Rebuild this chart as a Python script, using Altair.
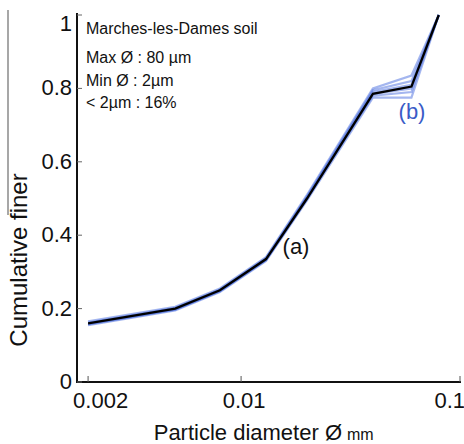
import altair as alt
import pandas as pd

# Grain-size distribution, Marches-les-Dames soil
diameter_mm = [0.002, 0.005, 0.008, 0.013, 0.02, 0.04, 0.06, 0.08]
finer_a = [0.16, 0.2, 0.25, 0.335, 0.5, 0.785, 0.805, 1.0]

# repeated measurements (b)
finer_b = {
    "b1": [0.155, 0.195, 0.245, 0.33, 0.495, 0.775, 0.775, 1.0],
    "b2": [0.158, 0.198, 0.248, 0.333, 0.5, 0.78, 0.79, 1.0],
    "b3": [0.16, 0.2, 0.25, 0.335, 0.505, 0.79, 0.81, 1.0],
    "b4": [0.162, 0.202, 0.252, 0.338, 0.505, 0.795, 0.82, 1.0],
    "b5": [0.165, 0.205, 0.255, 0.34, 0.51, 0.8, 0.835, 1.0],
    "b6": [0.157, 0.197, 0.247, 0.332, 0.498, 0.785, 0.8, 1.0],
}

y_ticks = [0, 0.2, 0.4, 0.6, 0.8, 1.0]
y_tick_labels = ["0", "0.2", "0.4", "0.6", "0.8", "1"]
x_ticks = [0.002, 0.01, 0.1]
x_tick_labels = ["0.002", "0.01", "0.1"]

info_lines = ["Marches-les-Dames soil", "Max Ø : 80 µm", "Min Ø : 2µm", "< 2µm : 16%"]

W, H = 383, 367
FONT = "Liberation Sans"
INK = "#111111"
BLUE = "#3a5bc7"

xs = alt.Scale(type="log", domain=[0.00178, 0.1], nice=False)
ys = alt.Scale(domain=[0, 1], nice=False)

df_a = pd.DataFrame({"d": diameter_mm, "f": finer_a})
df_b = pd.concat(
    [pd.DataFrame({"d": diameter_mm, "f": v, "run": k}) for k, v in finer_b.items()],
    ignore_index=True,
)
df_yt = pd.DataFrame({"v": y_ticks, "lab": y_tick_labels})
df_xt = pd.DataFrame({"v": x_ticks, "lab": x_tick_labels})
one = pd.DataFrame({"k": [0]})  # single row for free-standing marks

X = alt.X("d:Q", scale=xs, axis=None)
Y = alt.Y("f:Q", scale=ys, axis=None)


def txt(**kw):
    base = dict(font=FONT, fontWeight="normal", color=INK)
    base.update(kw)
    return alt.Chart(one).mark_text(**base)


lines_b = alt.Chart(df_b).mark_line(strokeWidth=2.2, color="#4a6ee0", opacity=0.5).encode(
    x=X, y=Y, detail="run:N"
)
line_a = alt.Chart(df_a).mark_line(strokeWidth=2.3, color="#000000").encode(x=X, y=Y)

# axis lines
y_axis = alt.Chart(one).mark_rule(color=INK, strokeWidth=2).encode(
    x=alt.value(0), y=alt.value(-2), y2=alt.value(H)
)
x_axis = alt.Chart(one).mark_rule(color=INK, strokeWidth=2).encode(
    x=alt.value(-1), x2=alt.value(W + 1), y=alt.value(H)
)
stray = alt.Chart(one).mark_rule(color="#8a8a8a", strokeWidth=1.5).encode(
    x=alt.value(-69), y=alt.value(-5), y2=alt.value(200)
)

# inward ticks
y_tick_marks = alt.Chart(df_yt).mark_rule(color="#666666", strokeWidth=1).encode(
    y=alt.Y("v:Q", scale=ys, axis=None), x=alt.value(0), x2=alt.value(5)
)
x_tick_marks = alt.Chart(df_xt).mark_rule(color="#555555", strokeWidth=1).encode(
    x=alt.X("v:Q", scale=xs, axis=None), y=alt.value(H), y2=alt.value(H - 6)
)

y_labels = alt.Chart(df_yt).transform_filter("datum.v < 1").mark_text(
    font=FONT, fontSize=22, align="right", baseline="middle", dx=-5, color=INK
).encode(y=alt.Y("v:Q", scale=ys, axis=None), x=alt.value(0), text="lab:N")
y_label_top = alt.Chart(df_yt).transform_filter("datum.v == 1").mark_text(
    font=FONT, fontSize=22, align="right", baseline="top", dx=-5, dy=-1, color=INK
).encode(y=alt.Y("v:Q", scale=ys, axis=None), x=alt.value(0), text="lab:N")

x_label_layers = []
for i, (align, dx) in enumerate([("left", -15), ("center", 3), ("right", 5)]):
    x_label_layers.append(
        alt.Chart(df_xt.iloc[[i]]).mark_text(
            font=FONT, fontSize=22, align=align, baseline="alphabetic", dx=dx, color=INK
        ).encode(x=alt.X("v:Q", scale=xs, axis=None), y=alt.value(H + 26), text="lab:N")
    )

x_title = txt(fontSize=22, align="right", baseline="alphabetic").encode(
    x=alt.value(265), y=alt.value(425), text=alt.value("Particle diameter Ø")
)
x_title_unit = txt(fontSize=16, align="left", baseline="alphabetic").encode(
    x=alt.value(270), y=alt.value(425), text=alt.value("mm")
)

y_title = txt(fontSize=24, angle=270, align="center", baseline="middle").encode(
    x=alt.value(-57), y=alt.value(245), text=alt.value("Cumulative finer")
)

info_layers = [
    txt(fontSize=16, align="left", baseline="alphabetic").encode(
        x=alt.value(9), y=alt.value(yy), text=alt.value(line)
    )
    for line, yy in zip(info_lines, [19, 48, 71, 93])
]

label_a = txt(fontSize=22, align="center", baseline="middle").encode(
    x=alt.value(219), y=alt.value(232), text=alt.value("(a)")
)
label_b = txt(fontSize=22, align="center", baseline="middle", color=BLUE).encode(
    x=alt.value(335), y=alt.value(97), text=alt.value("(b)")
)

chart = alt.layer(
    stray, lines_b, line_a, y_axis, x_axis, y_tick_marks, x_tick_marks,
    y_labels, y_label_top, *x_label_layers, x_title, x_title_unit, y_title,
    *info_layers, label_a, label_b,
).properties(
    width=W, height=H,
    autosize=alt.AutoSizeParams(type="none"),
    padding={"left": 77, "top": 15, "right": 4, "bottom": 62},
    background="white",
).configure_view(stroke=None)

chart.save("out.html", embed_options={"renderer": "svg", "actions": False})
